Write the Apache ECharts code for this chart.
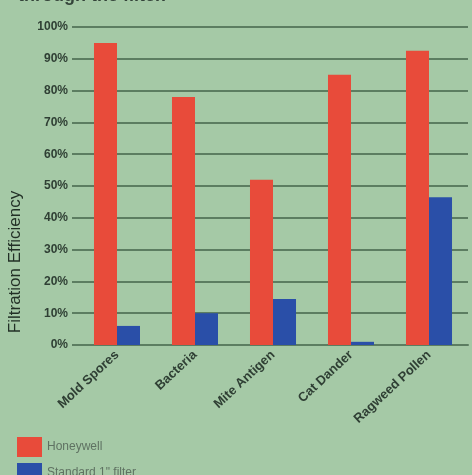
<!DOCTYPE html>
<html>
<head>
<meta charset="utf-8">
<script src="https://cdn.jsdelivr.net/npm/echarts@6/dist/echarts.min.js"></script>
<style>
html,body{margin:0;padding:0;background:#a5c9a6;}
#c{width:472px;height:475px;}
</style>
</head>
<body>
<div id="c"></div>
<script>
const categories = ['Mold Spores', 'Bacteria', 'Mite Antigen', 'Cat Dander', 'Ragweed Pollen'];
const honeywell = [95, 78, 52, 85, 92.5];
const standard = [6, 10, 14.5, 1, 46.5];
const seriesNames = ['Honeywell', 'Standard 1" filter'];
const yTicks = [0, 10, 20, 30, 40, 50, 60, 70, 80, 90, 100];

const chart = echarts.init(document.getElementById('c'));
const grid = '#5c7d61';
const legendText = { color: '#5f7262', fontSize: 12, fontFamily: 'Liberation Sans' };
chart.setOption({
  backgroundColor: '#a5c9a6',
  animation: false,
  grid: { left: 78, right: 4, top: 27, bottom: 130 },
  legend: [
    { left: 12, top: 432, itemWidth: 25, itemHeight: 20, icon: 'rect', itemGap: 6,
      textStyle: legendText, data: [seriesNames[0]] },
    { left: 12, top: 458, itemWidth: 25, itemHeight: 20, icon: 'rect', itemGap: 6,
      textStyle: legendText, data: [seriesNames[1]] }
  ],
  graphic: [
    { type: 'text', rotation: Math.PI / 2, x: 15, y: 262,
      style: { text: 'Filtration Efficiency', fill: '#223026', font: '17px "Liberation Sans"',
               textAlign: 'center', textVerticalAlign: 'middle' } },
    { type: 'text', x: 18, y: 5,
      style: { text: 'through the filter.', fill: '#34443a', font: 'bold 18px "Liberation Sans"',
               textAlign: 'left', textVerticalAlign: 'bottom' } }
  ],
  xAxis: {
    type: 'category', data: categories,
    axisLine: { show: true, lineStyle: { color: grid, width: 2 } },
    axisTick: { show: false },
    axisLabel: { rotate: 43, margin: 8, color: '#2f3f34', fontWeight: 'bold', fontSize: 13,
                 fontFamily: 'Liberation Sans', interval: 0 }
  },
  yAxis: {
    type: 'value', min: 0, max: 100, interval: 10,
    axisLine: { show: false },
    axisTick: { show: true, length: 6, lineStyle: { color: grid, width: 2 } },
    splitLine: { lineStyle: { color: grid, width: 2 } },
    axisLabel: { margin: 10, color: '#2f3f34', fontWeight: 'bold', fontSize: 12,
                 fontFamily: 'Liberation Sans',
                 formatter: v => yTicks.includes(v) ? v + '%' : '' }
  },
  series: [
    { name: seriesNames[0], type: 'bar', data: honeywell, barGap: '0%', barCategoryGap: '41%',
      itemStyle: { color: '#e84b3a' } },
    { name: seriesNames[1], type: 'bar', data: standard,
      itemStyle: { color: '#2a4fa8' } }
  ]
});
</script>
</body>
</html>
